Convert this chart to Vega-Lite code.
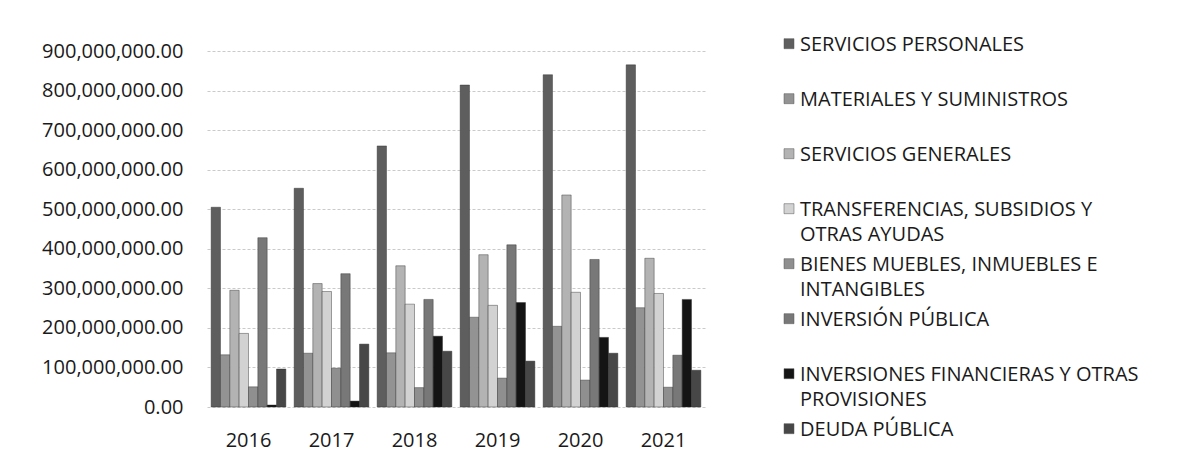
{
  "$schema": "https://vega.github.io/schema/vega-lite/v6.json",
  "width": 498,
  "height": 356,
  "autosize": {"type": "none"},
  "padding": {"left": 207, "top": 51, "right": 475, "bottom": 66},
  "background": "white",
  "config": {
    "view": {"stroke": null},
    "font": "Open Sans",
    "axis": {"labelFont": "Open Sans", "labelFontSize": 20, "labelColor": "#1a1a1a"}
  },
  "datasets": {
    "gasto": [
      {"anio": "2016", "capitulo": "SERVICIOS PERSONALES", "monto": 505000000},
      {"anio": "2016", "capitulo": "MATERIALES Y SUMINISTROS", "monto": 132000000},
      {"anio": "2016", "capitulo": "SERVICIOS GENERALES", "monto": 295000000},
      {"anio": "2016", "capitulo": "TRANSFERENCIAS, SUBSIDIOS Y OTRAS AYUDAS", "monto": 186000000},
      {"anio": "2016", "capitulo": "BIENES MUEBLES, INMUEBLES E INTANGIBLES", "monto": 51000000},
      {"anio": "2016", "capitulo": "INVERSIÓN PÚBLICA", "monto": 428000000},
      {"anio": "2016", "capitulo": "INVERSIONES FINANCIERAS Y OTRAS PROVISIONES", "monto": 5000000},
      {"anio": "2016", "capitulo": "DEUDA PÚBLICA", "monto": 96000000},
      {"anio": "2017", "capitulo": "SERVICIOS PERSONALES", "monto": 553000000},
      {"anio": "2017", "capitulo": "MATERIALES Y SUMINISTROS", "monto": 136000000},
      {"anio": "2017", "capitulo": "SERVICIOS GENERALES", "monto": 312000000},
      {"anio": "2017", "capitulo": "TRANSFERENCIAS, SUBSIDIOS Y OTRAS AYUDAS", "monto": 292000000},
      {"anio": "2017", "capitulo": "BIENES MUEBLES, INMUEBLES E INTANGIBLES", "monto": 98000000},
      {"anio": "2017", "capitulo": "INVERSIÓN PÚBLICA", "monto": 337000000},
      {"anio": "2017", "capitulo": "INVERSIONES FINANCIERAS Y OTRAS PROVISIONES", "monto": 15000000},
      {"anio": "2017", "capitulo": "DEUDA PÚBLICA", "monto": 159000000},
      {"anio": "2018", "capitulo": "SERVICIOS PERSONALES", "monto": 660000000},
      {"anio": "2018", "capitulo": "MATERIALES Y SUMINISTROS", "monto": 137000000},
      {"anio": "2018", "capitulo": "SERVICIOS GENERALES", "monto": 357000000},
      {"anio": "2018", "capitulo": "TRANSFERENCIAS, SUBSIDIOS Y OTRAS AYUDAS", "monto": 260000000},
      {"anio": "2018", "capitulo": "BIENES MUEBLES, INMUEBLES E INTANGIBLES", "monto": 49000000},
      {"anio": "2018", "capitulo": "INVERSIÓN PÚBLICA", "monto": 272000000},
      {"anio": "2018", "capitulo": "INVERSIONES FINANCIERAS Y OTRAS PROVISIONES", "monto": 179000000},
      {"anio": "2018", "capitulo": "DEUDA PÚBLICA", "monto": 141000000},
      {"anio": "2019", "capitulo": "SERVICIOS PERSONALES", "monto": 814000000},
      {"anio": "2019", "capitulo": "MATERIALES Y SUMINISTROS", "monto": 227000000},
      {"anio": "2019", "capitulo": "SERVICIOS GENERALES", "monto": 385000000},
      {"anio": "2019", "capitulo": "TRANSFERENCIAS, SUBSIDIOS Y OTRAS AYUDAS", "monto": 257000000},
      {"anio": "2019", "capitulo": "BIENES MUEBLES, INMUEBLES E INTANGIBLES", "monto": 73000000},
      {"anio": "2019", "capitulo": "INVERSIÓN PÚBLICA", "monto": 410000000},
      {"anio": "2019", "capitulo": "INVERSIONES FINANCIERAS Y OTRAS PROVISIONES", "monto": 264000000},
      {"anio": "2019", "capitulo": "DEUDA PÚBLICA", "monto": 116000000},
      {"anio": "2020", "capitulo": "SERVICIOS PERSONALES", "monto": 840000000},
      {"anio": "2020", "capitulo": "MATERIALES Y SUMINISTROS", "monto": 204000000},
      {"anio": "2020", "capitulo": "SERVICIOS GENERALES", "monto": 536000000},
      {"anio": "2020", "capitulo": "TRANSFERENCIAS, SUBSIDIOS Y OTRAS AYUDAS", "monto": 290000000},
      {"anio": "2020", "capitulo": "BIENES MUEBLES, INMUEBLES E INTANGIBLES", "monto": 68000000},
      {"anio": "2020", "capitulo": "INVERSIÓN PÚBLICA", "monto": 373000000},
      {"anio": "2020", "capitulo": "INVERSIONES FINANCIERAS Y OTRAS PROVISIONES", "monto": 176000000},
      {"anio": "2020", "capitulo": "DEUDA PÚBLICA", "monto": 136000000},
      {"anio": "2021", "capitulo": "SERVICIOS PERSONALES", "monto": 865000000},
      {"anio": "2021", "capitulo": "MATERIALES Y SUMINISTROS", "monto": 251000000},
      {"anio": "2021", "capitulo": "SERVICIOS GENERALES", "monto": 376000000},
      {"anio": "2021", "capitulo": "TRANSFERENCIAS, SUBSIDIOS Y OTRAS AYUDAS", "monto": 287000000},
      {"anio": "2021", "capitulo": "BIENES MUEBLES, INMUEBLES E INTANGIBLES", "monto": 50000000},
      {"anio": "2021", "capitulo": "INVERSIÓN PÚBLICA", "monto": 131000000},
      {"anio": "2021", "capitulo": "INVERSIONES FINANCIERAS Y OTRAS PROVISIONES", "monto": 272000000},
      {"anio": "2021", "capitulo": "DEUDA PÚBLICA", "monto": 93000000}
    ]
  },
  "data": {"name": "gasto"},
  "mark": {"type": "bar", "stroke": "#2a2a2a", "strokeWidth": 0.6, "strokeOpacity": 0.7},
  "encoding": {
    "x": {
      "field": "anio", "type": "nominal", "title": null,
      "scale": {"paddingInner": 0.1, "paddingOuter": 0.05},
      "axis": {"labelAngle": 0, "domain": false, "ticks": false, "labelPadding": 23, "grid": false}
    },
    "xOffset": {
      "field": "capitulo", "type": "nominal",
      "sort": ["SERVICIOS PERSONALES", "MATERIALES Y SUMINISTROS", "SERVICIOS GENERALES", "TRANSFERENCIAS, SUBSIDIOS Y OTRAS AYUDAS", "BIENES MUEBLES, INMUEBLES E INTANGIBLES", "INVERSIÓN PÚBLICA", "INVERSIONES FINANCIERAS Y OTRAS PROVISIONES", "DEUDA PÚBLICA"],
      "scale": {"paddingInner": 0}
    },
    "y": {
      "field": "monto", "type": "quantitative", "title": null,
      "scale": {"domain": [0, 900000000], "nice": false},
      "axis": {
        "format": ",.2f", "values": [0, 100000000, 200000000, 300000000, 400000000, 500000000, 600000000, 700000000, 800000000, 900000000],
        "domain": false, "ticks": false, "labelPadding": 24,
        "gridColor": "#bdbdbd", "gridDash": [3, 2], "gridWidth": 0.8
      }
    },
    "color": {
      "field": "capitulo", "type": "nominal",
      "scale": {
        "domain": ["SERVICIOS PERSONALES", "MATERIALES Y SUMINISTROS", "SERVICIOS GENERALES", "TRANSFERENCIAS, SUBSIDIOS Y OTRAS AYUDAS", "BIENES MUEBLES, INMUEBLES E INTANGIBLES", "INVERSIÓN PÚBLICA", "INVERSIONES FINANCIERAS Y OTRAS PROVISIONES", "DEUDA PÚBLICA"],
        "range": ["#5e5e5e", "#939393", "#b3b3b3", "#d2d2d2", "#8f8f8f", "#787878", "#141414", "#474747"]
      },
      "legend": {
        "orient": "none", "legendX": 572, "legendY": -26, "direction": "vertical",
        "title": null, "padding": 0,
        "labelExpr": "datum.label == 'TRANSFERENCIAS, SUBSIDIOS Y OTRAS AYUDAS' ? ['TRANSFERENCIAS, SUBSIDIOS Y', 'OTRAS AYUDAS'] : datum.label == 'BIENES MUEBLES, INMUEBLES E INTANGIBLES' ? ['BIENES MUEBLES, INMUEBLES E', 'INTANGIBLES'] : datum.label == 'INVERSIONES FINANCIERAS Y OTRAS PROVISIONES' ? ['INVERSIONES FINANCIERAS Y OTRAS', 'PROVISIONES'] : [datum.label, '']",
        "labelBaseline": "top", "labelFont": "Open Sans", "labelFontSize": 20, "labelColor": "#1a1a1a",
        "labelLimit": 420, "labelOffset": 1,
        "symbolType": "M-1,0.74H1V2.74H-1Z", "symbolSize": 100, "symbolStrokeWidth": 0.5, "symbolStrokeColor": "#555", "symbolOpacity": 1,
        "rowPadding": 0,
        "encode": {"labels": {"update": {"lineHeight": {"value": 24.5}}}}
      }
    }
  }
}
